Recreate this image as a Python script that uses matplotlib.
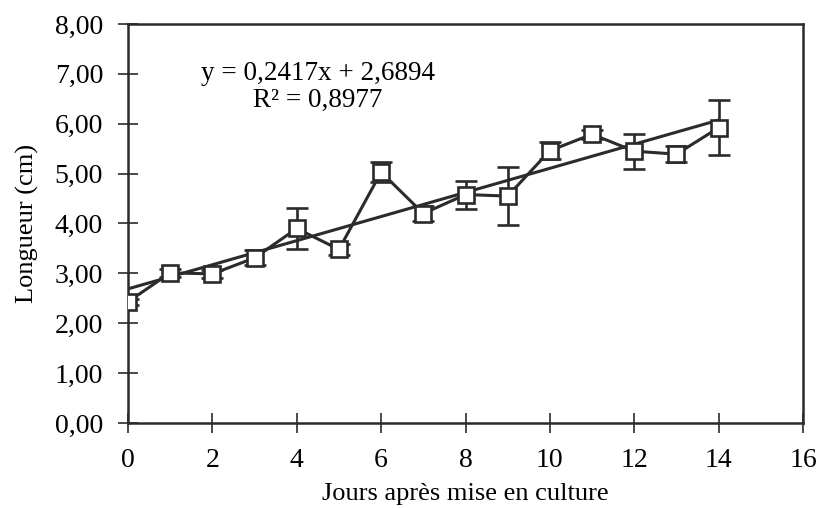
import numpy as np
import matplotlib
matplotlib.use("Agg")
from matplotlib import pyplot as plt
from matplotlib.ticker import FuncFormatter

# jours apres mise en culture
jours = [0, 1, 2, 3, 4, 5, 6, 7, 8, 9, 10, 11, 12, 13, 14]
# longueur moyenne (cm)
longueur = [2.43, 3.01, 2.99, 3.31, 3.90, 3.48, 5.03, 4.20, 4.58, 4.55, 5.46, 5.79, 5.45, 5.39, 5.92]
# ecart-type
ecart = [0.06, 0.08, 0.08, 0.15, 0.41, 0.11, 0.20, 0.15, 0.28, 0.58, 0.17, 0.09, 0.35, 0.16, 0.55]

# courbe de tendance (affichee sur le graphique)
pente = 0.2417
origine = 2.6894
r2 = 0.8977

plt.rcParams['font.family'] = ['Liberation Serif', 'DejaVu Serif']

fig = plt.figure(figsize=(8.2, 5.08), dpi=100)
ax = fig.add_axes([0.1561, 0.1673, 0.8232, 0.7855])

col = "#2b2b2b"
ax.errorbar(jours, longueur, yerr=ecart, fmt="none", ecolor=col,
            elinewidth=1.9, capsize=8, capthick=1.9, zorder=2)
ax.plot(jours, longueur, color=col, lw=2.2, marker="s", markersize=11,
        markerfacecolor="white", markeredgecolor=col, markeredgewidth=1.9, zorder=4)

xt = np.array([jours[0], jours[-1]])
ax.plot(xt, pente * xt + origine, color=col, lw=2.2, zorder=3)

def virgule(v, n):
    return f"{v:.{n}f}".replace(".", ",")

fig.text(318 / 820, 1 - 73 / 508, "y = " + virgule(pente, 4) + "x + " + virgule(origine, 4),
         ha="center", va="center", fontsize=19.5)
fig.text(318 / 820, 1 - 100 / 508, "R² = " + virgule(r2, 4),
         ha="center", va="center", fontsize=19.5)

ax.set_xlim(0, 16)
ax.set_ylim(0, 8)
ax.set_xticks(range(0, 17, 2))
ax.set_yticks(range(0, 9))
ax.yaxis.set_major_formatter(FuncFormatter(lambda v, p: virgule(v, 2)))

ax.tick_params(direction="inout", length=14, width=1.2, labelsize=20, color=col, pad=11)
for s in ax.spines.values():
    s.set_linewidth(1.8)
    s.set_color(col)

ax.set_xlabel("Jours après mise en culture", fontsize=19, labelpad=7)
ax.set_ylabel("Longueur (cm)", fontsize=19, labelpad=11)

fig.savefig("out.png", dpi=100)
